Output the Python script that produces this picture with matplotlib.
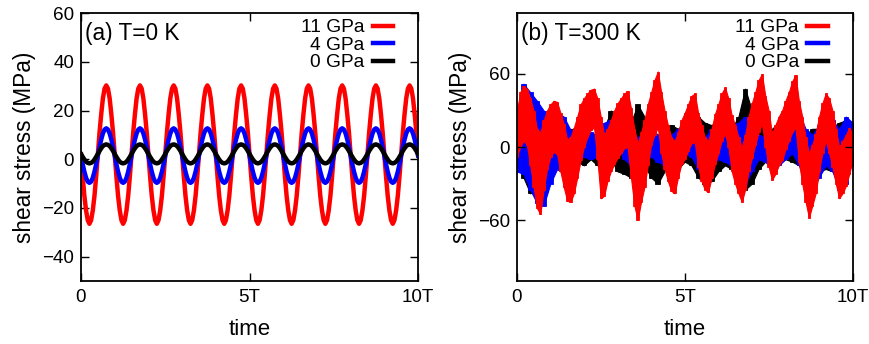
import numpy as np
import matplotlib
matplotlib.use("Agg")
import matplotlib.pyplot as plt

plt.rcParams["font.family"] = ["Liberation Sans", "DejaVu Sans"]

# --- (a) T=0 K : one period of shear stress (MPa), sampled every T/20 ---
cold_11 = [2, -7, -15, -21, -25, -26.5, -25, -21, -15, -7,
           2, 11, 18.5, 25, 29, 30.3, 29, 25, 18.5, 11]
cold_4 = [1.5, -2, -5.1, -7.6, -9.2, -9.7, -9.2, -7.6, -5.1, -2,
          1.5, 5, 8.1, 10.6, 12.2, 12.7, 12.2, 10.6, 8.1, 5]
cold_0 = [2.2, 1, -0.1, -1, -1.5, -1.7, -1.5, -1, -0.1, 1,
          2.2, 3.4, 4.5, 5.4, 5.9, 6.1, 5.9, 5.4, 4.5, 3.4]
n_periods = 10

# --- (b) T=300 K : upper / lower envelope of the fast fluctuation (MPa) ---
# 11 GPa sampled every 0.1T
hot_11_hi = [28, 45, 50, 48, 40, 30, 15, 12, 22, 30,
             35, 38, 37, 28, 19, 6, 8, 16, 25, 35,
             40, 44, 47, 48, 40, 25, 10, 15, 22, 30,
             36, 40, 44, 46, 32, 15, 3, 12, 22, 35,
             45, 55, 62, 45, 30, 18, 8, 5, 12, 22,
             28, 35, 42, 44, 28, 18, 8, 5, 15, 27,
             35, 44, 49, 40, 26, 18, 8, 0, 10, 25,
             36, 45, 55, 60, 42, 30, 11, 18, 25, 30,
             38, 45, 54, 59, 38, 25, 8, -5, 2, 11,
             25, 36, 44, 40, 30, 15, 0, 5, 10, 16, 11]
hot_11_lo = [-8, 0, 5, 2, -15, -33, -50, -55, -35, -18,
             -8, -4, -6, -20, -33, -44, -45, -38, -25, -11,
             0, 8, 14, 16, -10, -42, -40, -28, -20, -14,
             -9, -5, -1, 0, -25, -48, -60, -45, -33, -15,
             2, 10, 16, -5, -18, -28, -36, -38, -25, -14,
             -10, -3, 3, 4, -16, -28, -35, -37, -25, -14,
             -5, 5, 11, 0, -20, -30, -38, -45, -35, -20,
             -9, 2, 12, 19, 0, -16, -27, -22, -15, -11,
             -2, 5, 12, 16, -12, -30, -45, -58, -48, -38,
             -20, -5, 5, -5, -16, -30, -42, -38, -32, -22, -11]
# 4 GPa and 0 GPa sampled every 0.2T
hot_4_hi = [30, 52, 45, 38, 30, 25, 28, 25, 14, 10,
            10, 12, 10, 20, 22, 28, 18, 10, 8, 12,
            15, 10, 8, 10, 15, 18, 15, 10, 8, 15,
            18, 15, 10, 20, 25, 15, 10, 8, 12, 15,
            25, 30, 28, 15, 10, 18, 25, 22, 15, 25, 20]
hot_4_lo = [-20, -22, -35, -46, -48, -30, -18, -22, -12, -8,
            -8, -10, -8, -5, -5, 0, -10, -15, -20, -10,
            -8, -12, -15, -10, -12, -5, -8, -18, -22, -15,
            -10, -12, -15, -20, -30, -20, -10, -12, -18, -15,
            -10, -5, -15, -30, -35, -25, -15, -20, -35, -30, -10]
hot_0_hi = [15, 25, 20, 10, 12, 15, 12, 10, 15, 12,
            10, 8, 10, 15, 30, 25, 15, 20, 35, 25,
            15, 10, 15, 18, 15, 20, 22, 25, 20, 18,
            22, 20, 15, 25, 48, 30, 20, 15, 15, 20,
            18, 15, 12, 10, 15, 15, 12, 15, 20, 22, 20]
hot_0_lo = [-15, -25, -38, -35, -20, -15, -18, -20, -18, -12,
            -15, -10, -15, -12, -10, -20, -22, -25, -18, -15,
            -25, -30, -20, -12, -18, -12, -15, -25, -30, -28,
            -20, -15, -18, -25, -35, -30, -18, -12, -15, -12,
            -10, -12, -15, -20, -22, -20, -18, -20, -25, -20, -15]

labels = ["11 GPa", "4 GPa", "0 GPa"]
colors = ["#ff0000", "#0000ff", "#000000"]


def style_axes(ax, ylim, yticks):
    ax.set_xlim(0, 10)
    ax.set_ylim(*ylim)
    ax.set_xticks([0, 5, 10])
    ax.set_xticklabels(["0", "5T", "10T"])
    ax.set_yticks(yticks)
    ax.tick_params(direction="in", length=6, width=1, labelsize=13.6,
                   top=True, right=True)
    ax.tick_params(axis="x", pad=5.5)
    ax.tick_params(axis="y", pad=5)
    for sp in ax.spines.values():
        sp.set_linewidth(1.3)
        sp.set_zorder(5)
    ax.set_xlabel("time", fontsize=16, labelpad=9.5)
    ax.set_ylabel("shear stress (MPa)", fontsize=16.3, labelpad=4)
    ax.legend(loc="upper right", bbox_to_anchor=(1 - 25 / 336, 1 - 6 / 268),
              frameon=False, markerfirst=False, fontsize=13.8,
              handlelength=1.05, labelspacing=0.0, handletextpad=0.45,
              borderpad=0, borderaxespad=0)


fig = plt.figure(figsize=(8.7, 3.44), dpi=100)
ax1 = fig.add_axes([0.0931, 0.183, 0.3874, 0.779])
ax2 = fig.add_axes([0.594, 0.183, 0.386, 0.779])

# (a) periodic response at 0 K
t_cold = np.arange(len(cold_11) * n_periods + 1) / len(cold_11)
for ys, lab, c in zip([cold_11, cold_4, cold_0], labels, colors):
    y = np.append(np.tile(ys, n_periods), ys[0])
    ax1.plot(t_cold, y, color=c, lw=3.2, label=lab, solid_joinstyle="round")
style_axes(ax1, (-50, 60), [-40, -20, 0, 20, 40, 60])
ax1.text(0.012, 0.925, "(a) T=0 K", transform=ax1.transAxes, fontsize=16.3,
         va="center", ha="left")

# (b) thermal fluctuations at 300 K: solid ribbon between the envelopes,
# plus one column per sample for the ragged edges; 11 GPa drawn last
bands = [(hot_0_hi, hot_0_lo, colors[2]),
         (hot_4_hi, hot_4_lo, colors[1]),
         (hot_11_hi, hot_11_lo, colors[0])]
for hi, lo, c in bands:
    hi = np.asarray(hi, float)
    lo = np.asarray(lo, float)
    t = np.linspace(0, 10, len(hi))
    dt = t[1] - t[0]
    ax2.fill_between(t, lo, hi, color=c, lw=0.8, edgecolor=c)
    ax2.bar(t, hi - lo, bottom=lo, width=dt * 0.7, color=c, edgecolor=c,
            lw=0.6)
for lab, c in zip(labels, colors):
    ax2.plot([], [], color=c, lw=3.2, label=lab)
style_axes(ax2, (-110, 110), [-60, 0, 60])
ax2.text(0.012, 0.925, "(b) T=300 K", transform=ax2.transAxes, fontsize=16.3,
         va="center", ha="left")

fig.savefig("out.png", dpi=100)
